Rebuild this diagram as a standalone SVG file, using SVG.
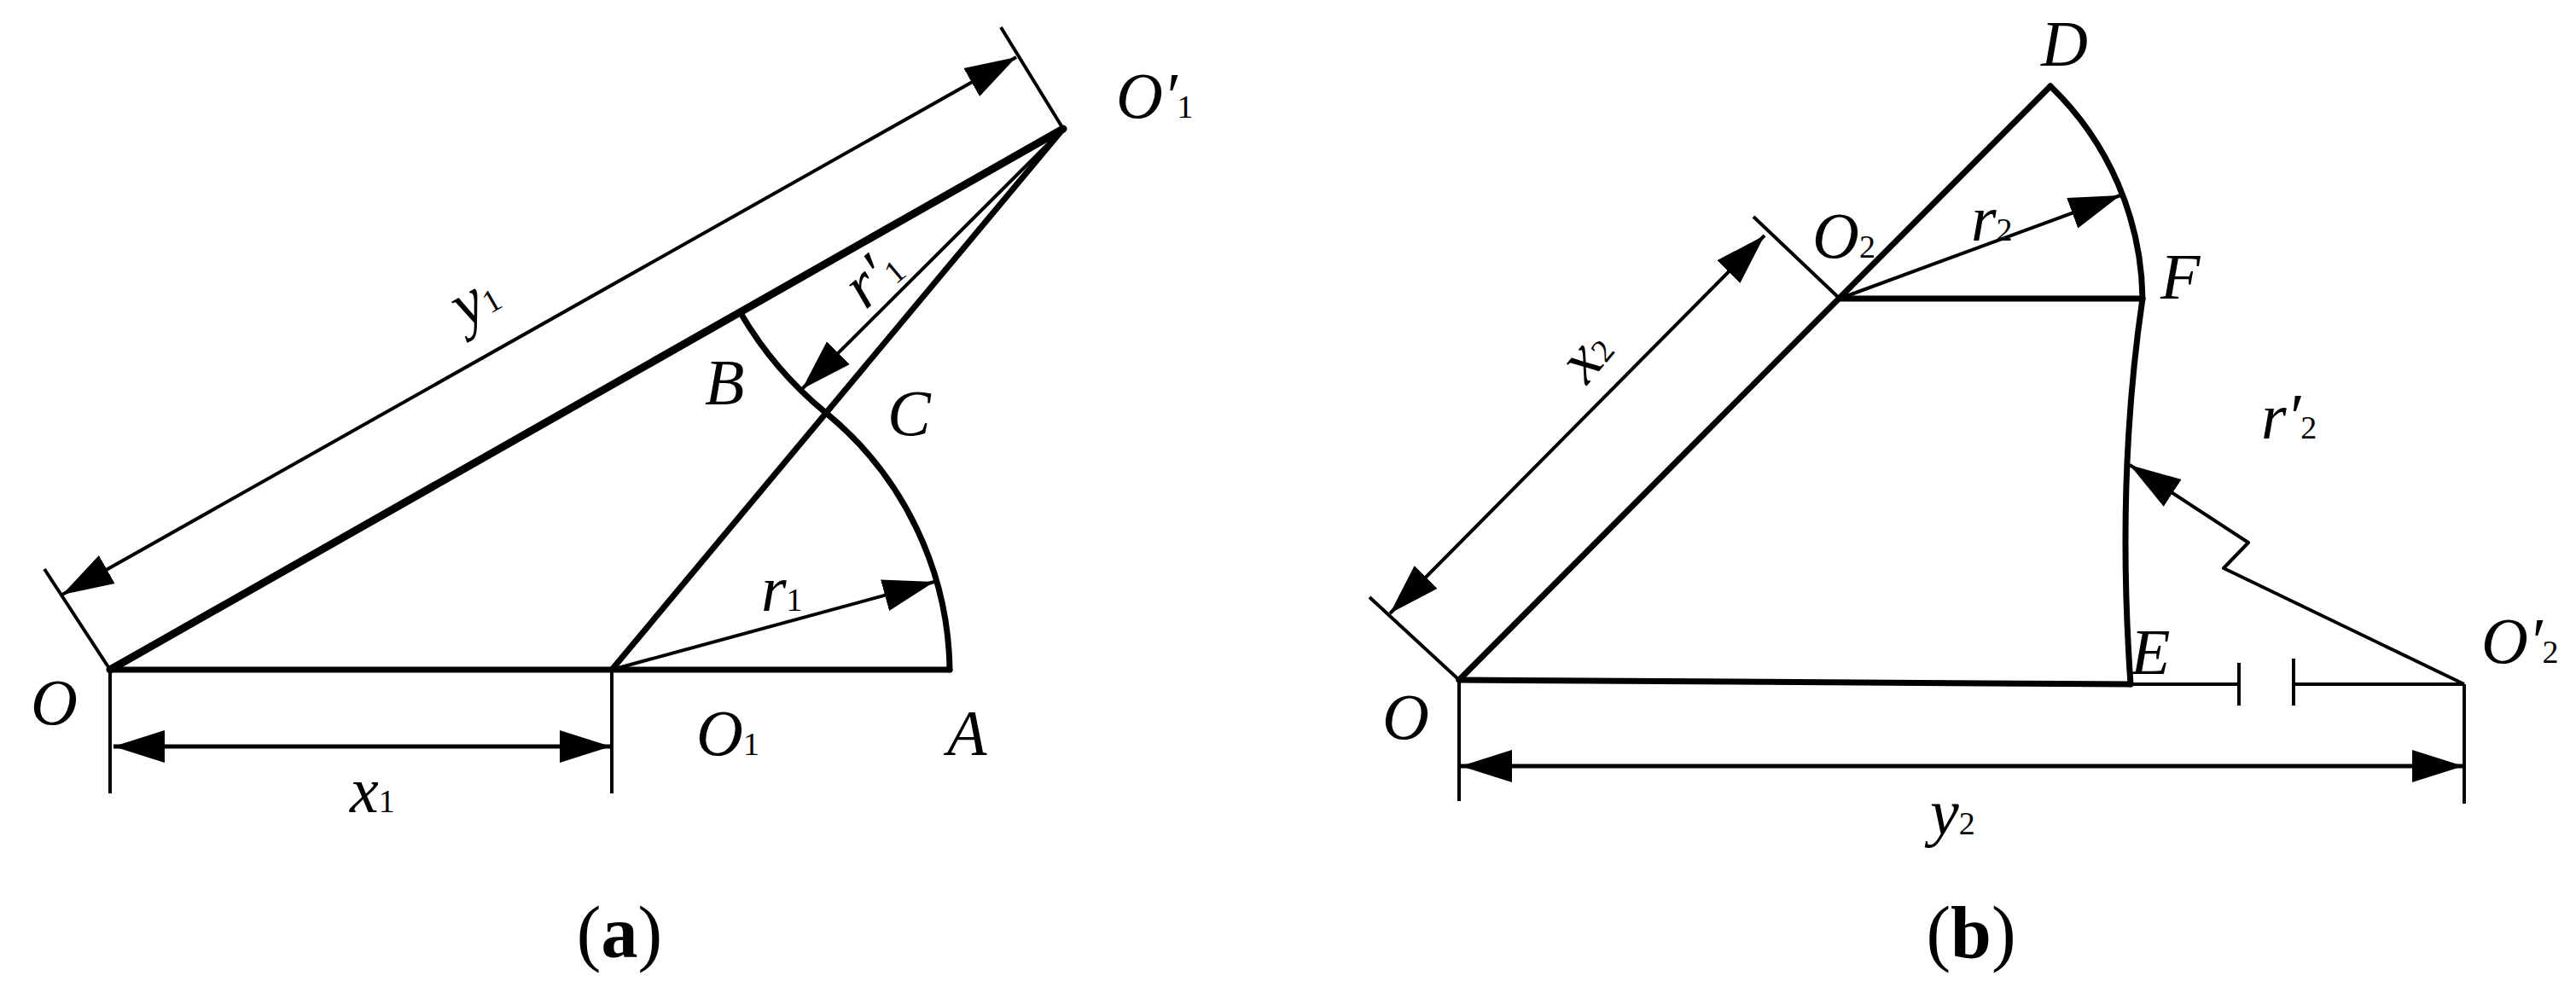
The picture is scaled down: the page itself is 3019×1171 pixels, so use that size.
<svg xmlns="http://www.w3.org/2000/svg" width="3019" height="1171" viewBox="0 0 3019 1171">
<style>
.th{fill:none;stroke:#000;stroke-width:7;stroke-linecap:round;stroke-linejoin:round}
.hv{fill:none;stroke:#000;stroke-width:9;stroke-linecap:round}
.md{fill:none;stroke:#000;stroke-width:5}
.tn{fill:none;stroke:#000;stroke-width:4}
.ar{marker-end:url(#h)}
.dm{marker-start:url(#h);marker-end:url(#h)}
text{font-family:"Liberation Serif","Times New Roman",serif;fill:#000}
.l{font-size:76px;font-style:italic}
.s{font-size:38px;font-style:normal}
.c{font-size:86px;text-anchor:middle}
.c tspan{font-weight:bold}
</style>
<defs>
<marker id="h" markerUnits="userSpaceOnUse" markerWidth="62" markerHeight="40" refX="60" refY="20" orient="auto-start-reverse">
<path d="M0 1L60 20L0 39Z" fill="#000"/>
</marker>
</defs>
<rect width="3019" height="1171" fill="#fff"/>
<g id="connectors">
<path class="hv" d="M129 785L1246 151"/>
<path class="th" d="M129 785H1113"/>
<path class="th" d="M717 785L1246 151"/>
<path class="th" d="M1113 785A396 396 0 0 0 968 484A435 435 0 0 1 868 367"/>
<path class="tn" d="M52 667L129 785M1173 32L1246 151M129 785V930M717 785V930"/>
<path class="tn dm" d="M73 697L1191 67"/>
<path class="md dm" d="M133 875H716"/>
<path class="tn ar" d="M717 785L1095 682"/>
<path class="tn ar" d="M1246 151L940 456"/>
<path class="th" d="M1710 797L2403 101"/>
<path class="th" d="M1710 797L2497 802"/>
<path class="th" d="M2156 350H2511"/>
<path class="th" d="M2403 101A352 352 0 0 1 2511 350Q2480 560 2497 802"/>
<path class="tn" d="M1605 700L1710 797M2055 254L2156 350M1710 797V939M2888 802V942M2497 802H2624M2688 802H2888M2624 777V827M2688 772V827"/>
<path class="tn dm" d="M1629 719L2068 276"/>
<path class="md dm" d="M1712 898H2887"/>
<path class="tn ar" d="M2156 350L2485 229"/>
<path class="tn ar" stroke-linejoin="round" d="M2888 802L2606 666L2635 636L2496 545"/>
</g>
<g id="labels-a">
<g id="node-O-a"><text class="l" x="36" y="849">O</text></g>
<g id="node-O1"><text class="l" x="816" y="885">O<tspan class="s">1</tspan></text></g>
<g id="node-A"><text class="l" x="1110" y="885">A</text></g>
<g id="node-B"><text class="l" x="826" y="474">B</text></g>
<g id="node-C"><text class="l" x="1040" y="510">C</text></g>
<g id="node-O1p"><text class="l" x="1308" y="138">O′<tspan class="s">1</tspan></text></g>
<g id="node-x1"><text class="l" x="410" y="952">x<tspan class="s">1</tspan></text></g>
<g id="node-y1"><text class="l" transform="translate(545 385) rotate(-30)">y<tspan class="s">1</tspan></text></g>
<g id="node-r1"><text class="l" x="892" y="716">r<tspan class="s">1</tspan></text></g>
<g id="node-r1p"><text class="l" transform="translate(1014 364) rotate(-40)">r′<tspan class="s">1</tspan></text></g>
<text id="cap-a" class="c" x="726" y="1122">(<tspan>a</tspan>)</text>
</g>
<g id="labels-b">
<g id="node-O-b"><text class="l" x="1620" y="866">O</text></g>
<g id="node-O2"><text class="l" x="2124" y="302">O<tspan class="s">2</tspan></text></g>
<g id="node-D"><text class="l" x="2392" y="77">D</text></g>
<g id="node-F"><text class="l" x="2532" y="350">F</text></g>
<g id="node-E"><text class="l" x="2497" y="790">E</text></g>
<g id="node-O2p"><text class="l" x="2908" y="777">O′<tspan class="s">2</tspan></text></g>
<g id="node-x2"><text class="l" transform="translate(1860 452) rotate(-50)">x<tspan class="s">2</tspan></text></g>
<g id="node-y2"><text class="l" x="2262" y="978">y<tspan class="s">2</tspan></text></g>
<g id="node-r2"><text class="l" x="2310" y="282">r<tspan class="s">2</tspan></text></g>
<g id="node-r2p"><text class="l" x="2650" y="514">r′<tspan class="s">2</tspan></text></g>
<text id="cap-b" class="c" x="2310" y="1122">(<tspan>b</tspan>)</text>
</g>
</svg>
